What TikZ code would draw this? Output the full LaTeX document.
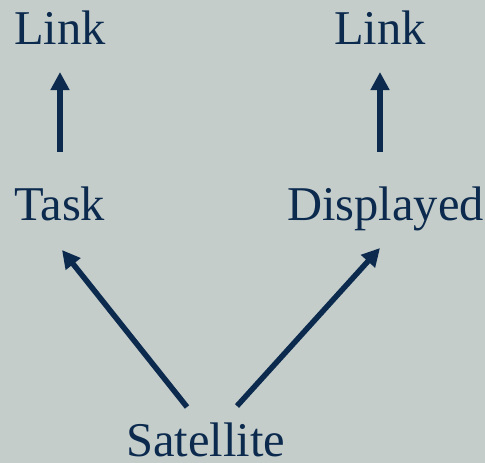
\documentclass[tikz,border=0pt]{standalone}
\usepackage{fontspec}
\setmainfont{Liberation Serif}
\usetikzlibrary{arrows.meta}
\definecolor{bg}{HTML}{C4CDCA}
\definecolor{navy}{HTML}{0B2A4E}
\tikzset{
  lbl/.style={anchor=base west, inner sep=0pt, text=navy, font=\fontsize{48.5}{56}\selectfont},
  arr/.style={draw=navy, line width=5.5pt, -{Triangle[width=18pt,length=18pt]}}
}
\begin{document}
\begin{tikzpicture}[x=1pt,y=-1pt]
\fill[bg] (0,0) rectangle (485,463);
\useasboundingbox (0,0) rectangle (485,463);
\node[lbl] (link1) at (14,45) {Link};
\node[lbl] (link2) at (334,45) {Link};
\node[lbl] (task) at (14,220) {Task};
\node[lbl] (disp) at (287,220) {Displayed};
\node[lbl] (sat) at (126,456) {Satellite};
\coordinate (t1s) at (60,152);
\coordinate (t1e) at (60,72);
\coordinate (t2s) at (380,152);
\coordinate (t2e) at (380,72);
\coordinate (s1s) at (187,407);
\coordinate (s1e) at (62,250);
\coordinate (s2s) at (237,406);
\coordinate (s2e) at (380,248);
\draw[arr] (t1s) -- (t1e);
\draw[arr] (t2s) -- (t2e);
\draw[arr] (s1s) -- (s1e);
\draw[arr] (s2s) -- (s2e);
\end{tikzpicture}
\end{document}
